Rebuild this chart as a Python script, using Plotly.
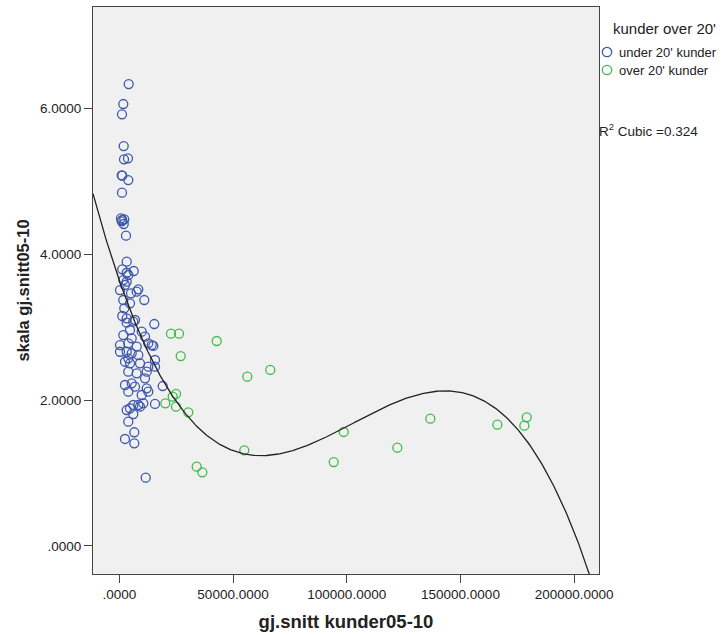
import numpy as np
import plotly.graph_objects as go

# ---- data ----
under_x = [4133, 1759, 1187, 1935, 2067, 3825, 1055, 1319, 3957, 1187,
           747, 1319, 2199, 1055, 1935, 2946, 3254, 1319, 6332,
           3254, 1759, 3254, 2506, 308, 8354, 7651, 5144, 10993, 1759,
           4705, 2199, 1319, 3254, 6903, 15390, 3957,
           3254, 6156, 4705, 1759, 9849, 11300, 5452, 308, 3957, 7651,
           12751, 14950, 308, 3254, 5452, 8354, 3957, 2506, 15697, 4705,
           9102, 12751, 15697, 3957, 7651, 12048, 11300, 2506, 5452, 6903,
           12048, 19083, 12751,
           3957, 9849, 15697, 6156, 8354, 10553, 4705, 3254, 9102, 6156,
           3957, 6596, 2506, 6596, 11608, 14246]
under_y = [6.333, 6.059, 5.918, 5.483, 5.301, 5.315, 5.082, 5.076, 5.017, 4.843,
           4.492, 4.469, 4.478, 4.451, 4.414, 4.254, 3.897, 3.793, 3.770,
           3.746, 3.646, 3.623, 3.578, 3.509, 3.519, 3.486, 3.464, 3.372, 3.372,
           3.327, 3.258, 3.153, 3.121, 3.098, 3.043, 3.715,
           3.061, 3.075, 2.961, 2.892, 2.938, 2.869, 2.847, 2.755, 2.779, 2.732,
           2.779, 2.742, 2.663, 2.663, 2.642, 2.618, 2.573, 2.526, 2.550, 2.504,
           2.504, 2.458, 2.458, 2.389, 2.367, 2.389, 2.299, 2.207, 2.230, 2.184,
           2.162, 2.193, 2.115,
           2.115, 2.070, 1.947, 1.933, 1.933, 1.956, 1.888, 1.864, 1.910, 1.809,
           1.704, 1.559, 1.467, 1.408, 0.936, 2.755]

over_x = [22730, 26250, 42830, 27000, 56280, 66390, 24930, 23480, 20230, 24930,
          30340, 54960, 34030, 36500, 98670, 94270, 122240, 136750, 166210,
          178080, 179140]
over_y = [2.910, 2.910, 2.810, 2.604, 2.321, 2.413, 2.084, 2.047, 1.956, 1.910,
          1.833, 1.312, 1.087, 1.010, 1.563, 1.151, 1.348, 1.745, 1.663,
          1.649, 1.764]

series_names = ["under 20' kunder", "over 20' kunder"]
legend_title = "kunder over 20'"
r2_text = "R<sup>2</sup> Cubic =0.324"

x_tick_vals = [0, 50000, 100000, 150000, 200000]
x_tick_text = [".0000", "50000.0000", "100000.0000", "150000.0000", "200000.0000"]
y_tick_vals = [0, 2, 4, 6]
y_tick_text = [".0000", "2.0000", "4.0000", "6.0000"]

x_range = [-11560, 210900]
y_range = [-0.384, 7.389]

# ---- styles ----
BLUE = "#3E58AC"
GREEN = "#3EBB4A"
FONT = "Liberation Sans, Arial, sans-serif"

# cubic fit through all points
all_x = np.array(under_x + over_x, dtype=float)
all_y = np.array(under_y + over_y, dtype=float)
coef = np.polyfit(all_x, all_y, 3)
fit_x = np.linspace(x_range[0], x_range[1], 500)
fit_y = np.polyval(coef, fit_x)

fig = go.Figure()
fig.add_trace(go.Scatter(x=under_x, y=under_y, mode="markers", name=series_names[0],
                         marker=dict(symbol="circle-open", size=9, color=BLUE,
                                     line=dict(width=1.3, color=BLUE)),
                         showlegend=False, cliponaxis=True))
fig.add_trace(go.Scatter(x=over_x, y=over_y, mode="markers", name=series_names[1],
                         marker=dict(symbol="circle-open", size=9, color=GREEN,
                                     line=dict(width=1.3, color=GREEN)),
                         showlegend=False, cliponaxis=True))
fig.add_trace(go.Scatter(x=fit_x, y=fit_y, mode="lines", showlegend=False,
                         line=dict(color="#222222", width=1.3), hoverinfo="skip"))

W, H = 724, 635
L, R, T, B = 93, 125, 7, 61
pw, ph = W - L - R, H - T - B


def px2paper(px, py):
    return (px - L) / pw, (H - B - py) / ph


annotations = []
tx, ty = px2paper(664, 28)
annotations.append(dict(x=tx, y=ty, xref="paper", yref="paper", text=legend_title,
                        showarrow=False, xanchor="center", yanchor="middle",
                        font=dict(family=FONT, size=15, color="#222")))
shapes = []
for i, (name, col) in enumerate(zip(series_names, [BLUE, GREEN])):
    cy = 52 + 18 * i
    lx, ly = px2paper(617, cy)
    annotations.append(dict(x=lx, y=ly, xref="paper", yref="paper", text=name,
                            showarrow=False, xanchor="left", yanchor="middle",
                            font=dict(family=FONT, size=13, color="#222")))
    cx, cyp = px2paper(607, cy)
    shapes.append(dict(type="circle", xref="paper", yref="paper",
                       xsizemode="pixel", ysizemode="pixel",
                       xanchor=cx, yanchor=cyp, x0=-4.7, x1=4.7, y0=-4.7, y1=4.7,
                       line=dict(color=col, width=1.3)))
rx, ry = px2paper(597, 130)
annotations.append(dict(x=rx, y=ry, xref="paper", yref="paper", text=r2_text,
                        showarrow=False, xanchor="left", yanchor="middle",
                        font=dict(family=FONT, size=13.5, color="#222")))

axis_common = dict(showgrid=False, zeroline=False, showline=True, mirror=True,
                   linecolor="#444", linewidth=1.2, ticks="outside", ticklen=8,
                   tickcolor="#444", tickwidth=1.2, automargin=False,
                   tickfont=dict(family=FONT, size=13.5, color="#222"))

fig.update_layout(
    width=W, height=H,
    margin=dict(l=L, r=R, t=T, b=B),
    paper_bgcolor="white", plot_bgcolor="#F0F0F0",
    font=dict(family=FONT),
    xaxis=dict(range=x_range, tickmode="array", tickvals=x_tick_vals,
               ticktext=x_tick_text,
               title=dict(text="<b>gj.snitt kunder05-10</b>", standoff=13,
                          font=dict(family=FONT, size=18.5, color="#222")),
               **axis_common),
    yaxis=dict(range=y_range, tickmode="array", tickvals=y_tick_vals,
               ticktext=y_tick_text,
               title=dict(text="<b>skala gj.snitt05-10</b>", standoff=6,
                          font=dict(family=FONT, size=16.5, color="#222")),
               **axis_common),
    annotations=annotations, shapes=shapes,
)

fig.write_html("out.html", config={"displayModeBar": False},
               post_script="document.body.style.margin='0px';"
                           "document.body.style.overflow='hidden';")
